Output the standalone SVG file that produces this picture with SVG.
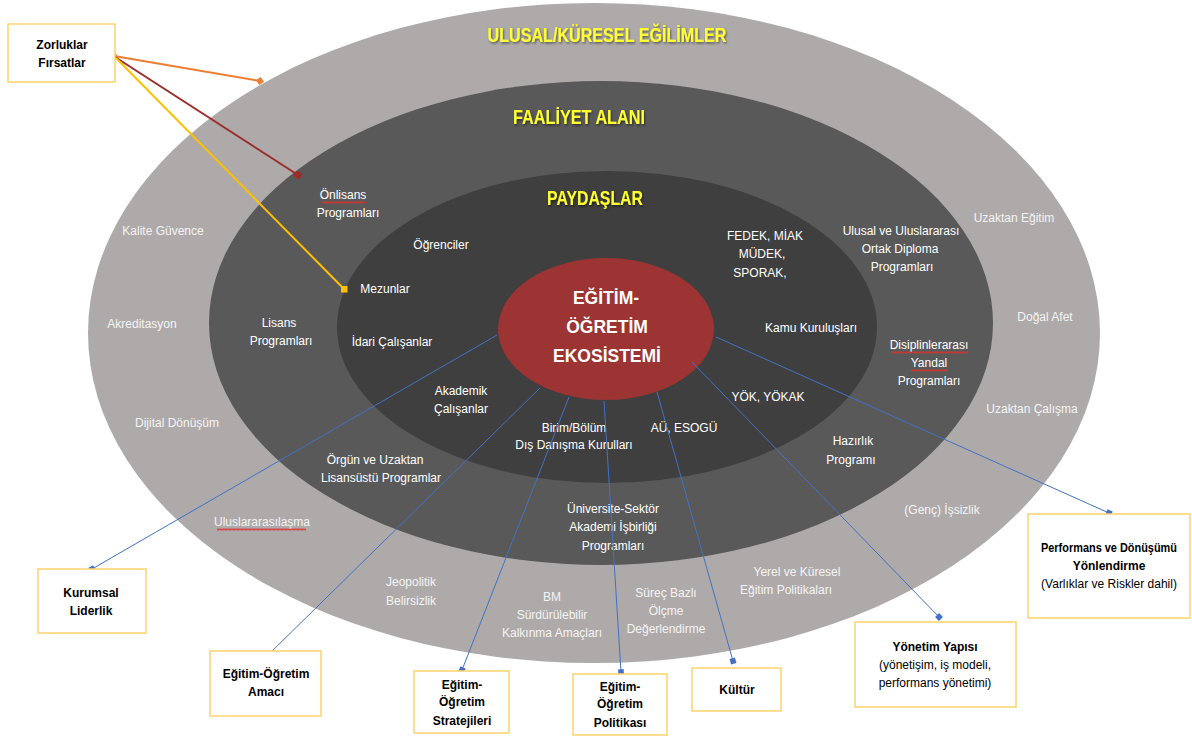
<svg xmlns="http://www.w3.org/2000/svg" width="1192" height="740" viewBox="0 0 1192 740">
<style>
text{font-family:"Liberation Sans",Arial,sans-serif;text-anchor:middle}
.w{fill:#ffffff;font-size:12px}
.wo{fill:#f4f4f4;font-size:12px}
.title{fill:#ffff33;font-weight:bold;font-size:20px;filter:url(#sh)}
.ctr{fill:#ffffff;font-weight:bold;font-size:17.5px}
.box{fill:#ffffff;stroke:#fdd36e;stroke-width:1.5}
.bt{fill:#000000;font-weight:bold;font-size:12px}
.nt{fill:#000000;font-size:12px}
.blue{stroke:#4472c4;stroke-width:1;fill:none;marker-end:url(#mb)}
.squig{fill:url(#wave)}
</style>
<defs>
<filter id="sh" x="-10%" y="-30%" width="120%" height="160%">
<feDropShadow dx="1" dy="1.5" stdDeviation="1" flood-color="#000" flood-opacity="0.5"/>
</filter>
<marker id="mb" viewBox="0 0 10 10" refX="5" refY="5" markerWidth="7" markerHeight="7" markerUnits="userSpaceOnUse" orient="auto">
<rect x="1" y="1" width="8" height="8" fill="#4472c4"/>
</marker>
<marker id="mo" viewBox="0 0 10 10" refX="5" refY="5" markerWidth="8" markerHeight="8" markerUnits="userSpaceOnUse" orient="auto">
<path d="M0,5 L5,0 L10,5 L5,10 Z" fill="#ed7d31"/>
</marker>
<marker id="mr" viewBox="0 0 10 10" refX="5" refY="5" markerWidth="7" markerHeight="7" markerUnits="userSpaceOnUse" orient="auto">
<rect x="0" y="0" width="10" height="10" fill="#9b2d2a"/>
</marker>
<marker id="my" viewBox="0 0 10 10" refX="5" refY="5" markerWidth="7" markerHeight="7" markerUnits="userSpaceOnUse" orient="0">
<rect x="0" y="0" width="10" height="10" fill="#ffc000"/>
</marker>
<pattern id="wave" width="4" height="3" patternUnits="userSpaceOnUse">
<path d="M0,2.5 L1,0.5 L2,2.5 L3,0.5 L4,2.5" stroke="#e03030" stroke-width="0.8" fill="none"/>
</pattern>
</defs>

<g id="ring-outer">
<ellipse cx="594" cy="333" rx="506" ry="330" fill="#aeaaaa"/>
</g>
<g id="ring-middle">
<ellipse cx="601" cy="323" rx="392" ry="242" fill="#595959"/>
</g>
<g id="ring-inner">
<ellipse cx="607" cy="327" rx="270" ry="156" fill="#3f3f3f"/>
</g>

<g id="outer-labels">
<text class="title" x="607" y="42" textLength="239" lengthAdjust="spacingAndGlyphs">ULUSAL/KÜRESEL EĞİLİMLER</text>
<text class="wo" x="163" y="235">Kalite Güvence</text>
<text class="wo" x="142" y="328">Akreditasyon</text>
<text class="wo" x="177" y="427">Dijital Dönüşüm</text>
<text class="wo" x="262" y="526">Uluslararasılaşma</text>
<rect class="squig" x="217" y="528" width="89" height="3"/>
<text class="wo" x="411" y="586">Jeopolitik</text>
<text class="wo" x="411" y="605">Belirsizlik</text>
<text class="wo" x="552" y="601">BM</text>
<text class="wo" x="552" y="619">Sürdürülebilir</text>
<text class="wo" x="552" y="637">Kalkınma Amaçları</text>
<text class="wo" x="666" y="597">Süreç Bazlı</text>
<text class="wo" x="666" y="615">Ölçme</text>
<text class="wo" x="666" y="633">Değerlendirme</text>
<text class="wo" x="797" y="576">Yerel ve Küresel</text>
<text class="wo" x="786" y="594">Eğitim Politikaları</text>
<text class="wo" x="942" y="514">(Genç) İşsizlik</text>
<text class="wo" x="1032" y="413">Uzaktan Çalışma</text>
<text class="wo" x="1045" y="321">Doğal Afet</text>
<text class="wo" x="1014" y="222">Uzaktan Eğitim</text>
</g>

<g id="middle-labels">
<text class="title" x="579" y="124" textLength="132" lengthAdjust="spacingAndGlyphs">FAALİYET ALANI</text>
<text class="w" x="343" y="199">Önlisans</text>
<rect class="squig" x="322" y="201" width="43" height="3"/>
<text class="w" x="348" y="217">Programları</text>
<text class="w" x="279" y="327">Lisans</text>
<text class="w" x="281" y="345">Programları</text>
<text class="w" x="375" y="464">Örgün ve Uzaktan</text>
<text class="w" x="381" y="482">Lisansüstü Programlar</text>
<text class="w" x="613" y="513">Üniversite-Sektör</text>
<text class="w" x="613" y="531">Akademi İşbirliği</text>
<text class="w" x="613" y="550">Programları</text>
<text class="w" x="853" y="445">Hazırlık</text>
<text class="w" x="851" y="464">Programı</text>
<text class="w" x="929" y="349">Disiplinlerarası</text>
<rect class="squig" x="891" y="351" width="77" height="3"/>
<text class="w" x="929" y="367">Yandal</text>
<rect class="squig" x="911" y="369" width="37" height="3"/>
<text class="w" x="929" y="385">Programları</text>
<text class="w" x="901" y="235">Ulusal ve Uluslararası</text>
<text class="w" x="900" y="253">Ortak Diploma</text>
<text class="w" x="902" y="271">Programları</text>
</g>

<g id="inner-labels">
<text class="title" x="595" y="205" textLength="96" lengthAdjust="spacingAndGlyphs">PAYDAŞLAR</text>
<text class="w" x="441" y="249">Öğrenciler</text>
<text class="w" x="385" y="293">Mezunlar</text>
<text class="w" x="392" y="346">İdari Çalışanlar</text>
<text class="w" x="461" y="395">Akademik</text>
<text class="w" x="461" y="413">Çalışanlar</text>
<text class="w" x="574" y="432">Birim/Bölüm</text>
<text class="w" x="574" y="449">Dış Danışma Kurulları</text>
<text class="w" x="684" y="432">AÜ, ESOGÜ</text>
<text class="w" x="768" y="401">YÖK, YÖKAK</text>
<text class="w" x="811" y="332">Kamu Kuruluşları</text>
<text class="w" x="765" y="240">FEDEK, MİAK</text>
<text class="w" x="762" y="258">MÜDEK,</text>
<text class="w" x="760" y="277">SPORAK,</text>
</g>

<g id="center">
<ellipse cx="606" cy="329" rx="108" ry="71" fill="#9b3432"/>
<text class="ctr" x="606" y="304">EĞİTİM-</text>
<text class="ctr" x="607" y="333">ÖĞRETİM</text>
<text class="ctr" x="607" y="362">EKOSİSTEMİ</text>
</g>

<g id="connectors">
<line x1="114" y1="56" x2="260" y2="81" stroke="#ed7d31" stroke-width="2" marker-start="url(#mo)" marker-end="url(#mo)"/>
<line x1="115" y1="57" x2="298" y2="175" stroke="#9b2d2a" stroke-width="2" marker-end="url(#mr)"/>
<line x1="116" y1="58" x2="344" y2="289" stroke="#ffc000" stroke-width="2" marker-end="url(#my)"/>
<line class="blue" x1="497" y1="335" x2="92" y2="569"/>
<line class="blue" x1="540" y1="388" x2="267" y2="656"/>
<line class="blue" x1="569" y1="397" x2="462" y2="670"/>
<line class="blue" x1="604" y1="401" x2="621" y2="672"/>
<line class="blue" x1="657" y1="392" x2="733" y2="661"/>
<line class="blue" x1="692" y1="362" x2="939" y2="617"/>
<line class="blue" x1="716" y1="337" x2="1109" y2="513"/>
</g>

<g id="box-zorluklar">
<rect class="box" x="8" y="24" width="107" height="58"/>
<text class="bt" x="62" y="49">Zorluklar</text>
<text class="bt" x="62" y="67">Fırsatlar</text>
</g>
<g id="box-kurumsal">
<rect class="box" x="38" y="569" width="108" height="64"/>
<text class="bt" x="91" y="597">Kurumsal</text>
<text class="bt" x="91" y="615">Liderlik</text>
</g>
<g id="box-amac">
<rect class="box" x="210" y="651" width="111" height="65"/>
<text class="bt" x="266" y="678">Eğitim-Öğretim</text>
<text class="bt" x="266" y="696">Amacı</text>
</g>
<g id="box-strateji">
<rect class="box" x="414" y="671" width="95" height="62"/>
<text class="bt" x="462" y="689">Eğitim-</text>
<text class="bt" x="462" y="706">Öğretim</text>
<text class="bt" x="462" y="725">Stratejileri</text>
</g>
<g id="box-politika">
<rect class="box" x="573" y="674" width="94" height="61"/>
<text class="bt" x="620" y="691">Eğitim-</text>
<text class="bt" x="620" y="708">Öğretim</text>
<text class="bt" x="620" y="727">Politikası</text>
</g>
<g id="box-kultur">
<rect class="box" x="692" y="668" width="89" height="43"/>
<text class="bt" x="737" y="694">Kültür</text>
</g>
<g id="box-yonetim">
<rect class="box" x="855" y="622" width="161" height="85"/>
<text class="bt" x="935" y="651">Yönetim Yapısı</text>
<text class="nt" x="935" y="669">(yönetişim, iş modeli,</text>
<text class="nt" x="935" y="687">performans yönetimi)</text>
</g>
<g id="box-performans">
<rect class="box" x="1028" y="514" width="162" height="104"/>
<text class="bt" x="1109" y="552" textLength="136" lengthAdjust="spacingAndGlyphs">Performans ve Dönüşümü</text>
<text class="bt" x="1109" y="570">Yönlendirme</text>
<text class="nt" x="1109" y="588">(Varlıklar ve Riskler dahil)</text>
</g>
</svg>
